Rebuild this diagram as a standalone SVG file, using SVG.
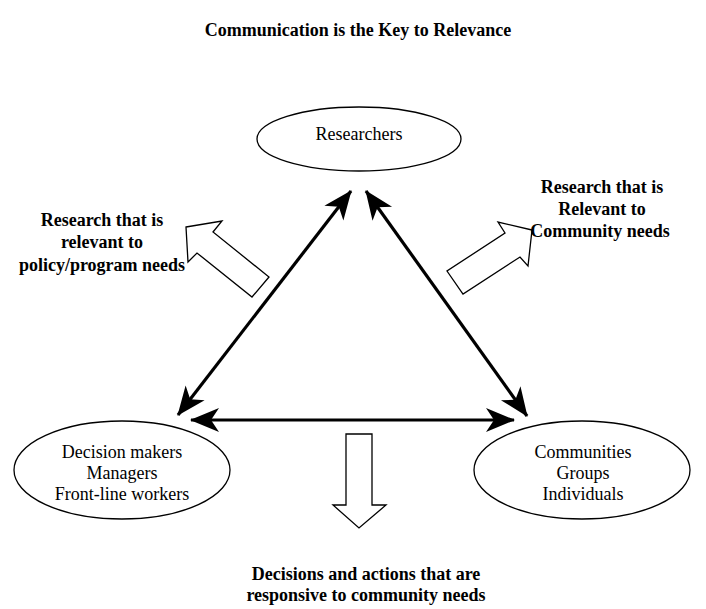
<svg xmlns="http://www.w3.org/2000/svg" width="706" height="609" viewBox="0 0 706 609" font-family="'Liberation Serif', Tinos, 'Times New Roman', 'Nimbus Roman', 'DejaVu Serif', serif">
<style>
text{font-family:'Liberation Serif',Tinos,'Times New Roman','Nimbus Roman','DejaVu Serif',serif;fill:#000;text-anchor:middle}
.b{font-weight:bold;font-size:18px}
.t{font-weight:bold;font-size:18px}
.n{font-size:18px}
.node{fill:#fff;stroke:#000;stroke-width:1.3}
.conn{stroke:#000;stroke-width:3.2;fill:none}
.block{fill:#fff;stroke:#000;stroke-width:1.3;stroke-linejoin:miter}
</style>
<defs>
<marker id="ah" viewBox="-29 -13 30 26" refX="0" refY="0" markerWidth="30" markerHeight="26" markerUnits="userSpaceOnUse" orient="auto-start-reverse">
<path d="M1,0 L-28,-12 L-20,0 L-28,12 Z" fill="#000"/>
</marker>
</defs>
<rect width="706" height="609" fill="#fff"/>
<text class="t" x="358" y="36">Communication is the Key to Relevance</text>

<g id="researchers">
<ellipse class="node" cx="359" cy="139" rx="102" ry="32"/>
<text class="n" x="359" y="140">Researchers</text>
</g>
<g id="decision-makers">
<ellipse class="node" cx="122" cy="470" rx="108" ry="49"/>
<text class="n" x="122" y="458">Decision makers</text>
<text class="n" x="122" y="479">Managers</text>
<text class="n" x="122" y="500">Front-line workers</text>
</g>
<g id="communities">
<ellipse class="node" cx="582" cy="470" rx="108" ry="49"/>
<text class="n" x="583" y="458">Communities</text>
<text class="n" x="583" y="479">Groups</text>
<text class="n" x="583" y="500">Individuals</text>
</g>

<g id="connectors">
<line class="conn" x1="178" y1="415" x2="351" y2="191" marker-start="url(#ah)" marker-end="url(#ah)"/>
<line class="conn" x1="366" y1="191" x2="527" y2="416" marker-start="url(#ah)" marker-end="url(#ah)"/>
<line class="conn" x1="191" y1="420" x2="514" y2="420" marker-start="url(#ah)" marker-end="url(#ah)"/>
</g>

<g id="policy-arrow">
<polygon class="block" points="186,227 222,221 213,232 269,277 252,297 197,253 188,262"/>
<text class="b" x="102" y="226">Research that is</text>
<text class="b" x="102" y="248">relevant to</text>
<text class="b" x="102" y="271">policy/program needs</text>
</g>
<g id="community-arrow">
<polygon class="block" points="532,230 498,222 505,233 447,271 463,294 520,257 528,266"/>
<text class="b" x="602" y="193">Research that is</text>
<text class="b" x="602" y="215">Relevant to</text>
<text class="b" x="600" y="237">Community needs</text>
</g>
<g id="decisions-arrow">
<polygon class="block" points="346,434 372,434 372,505 386,505 359,528 333,505 346,505"/>
<text class="b" x="366" y="580">Decisions and actions that are</text>
<text class="b" x="366" y="601">responsive to community needs</text>
</g>
</svg>
